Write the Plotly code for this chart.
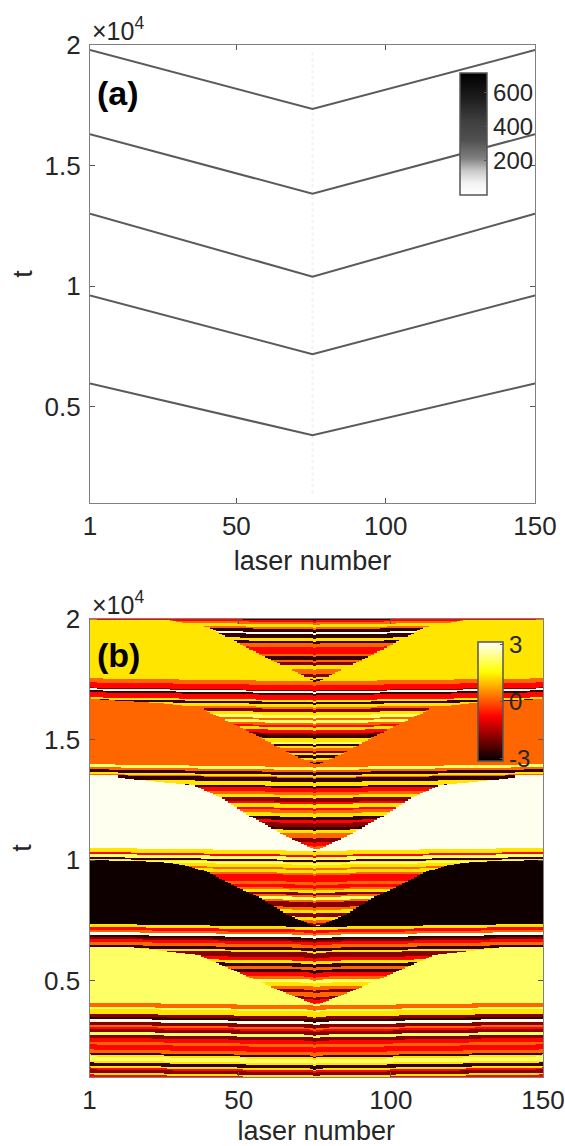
import numpy as np
import plotly.graph_objects as go

W, H = 565, 1146

# ---- panel (a) data
laser_ends = [1, 75.5, 150]
front_t = [
    [19790, 17350, 19790],
    [16300, 13830, 16300],
    [13000, 10390, 13000],
    [9610, 7170, 9610],
    [5960, 3810, 5960],
]
ghost_t = [19700, 1400]
intensity_range = [0, 715]
intensity_ticks = [200, 400, 600]
gray_scale = [[0, "#ffffff"], [0.1, "#f2f2f2"], [0.2, "#c8c8c8"], [0.3, "#808080"],
              [0.45, "#505050"], [0.6, "#404040"], [0.8, "#1c1c1c"], [1, "#000000"]]

# ---- panel (b) data: phase stripes, t of each stripe's top at the centre laser
D, R2, R, O, Y, L, C = -2.65, -1.9, -0.75, 0.16, 1.33, 2.2, 3.05
band_t = [20000, 19960, 19880, 19790, 19670, 19590, 19460, 19380, 19210, 19090, 19000, 18840,
          18550, 18470, 18300, 18220, 18090, 17930, 17720, 17590, 17510, 17430, 17260, 17050,
          17010, 16930, 16850, 16640, 16560, 16470, 16350, 16270, 16140, 16020, 15890, 15810,
          15690, 15600, 15520, 15400, 15270, 15190, 15060, 14900, 14820, 14730, 14650, 14520,
          14440, 14360, 14230, 14150, 14070, 13900, 13860, 13740, 13650, 13530, 13450, 13410,
          13240, 13070, 12990, 12820, 12700, 12580, 12410, 12330, 12160, 12080, 11950, 11790,
          11660, 11540, 11370, 11250, 11120, 10920, 10750, 10580, 10460, 10380, 10210, 10130,
          10000, 9920, 9880, 9800, 9670, 9590, 9460, 9380, 9090, 8970, 8840, 8760, 8640, 8550,
          8470, 8340, 8260, 8050, 7930, 7800, 7640, 7510, 7390, 7310, 7100, 6980, 6890, 6770,
          6680, 6600, 6480, 6350, 6230, 6150, 5940, 5810, 5690, 5560, 5440, 5320, 5150, 5030,
          4900, 4740, 4610, 4490, 4320, 4200, 4070, 3780, 3700, 3490, 3370, 3280, 3160, 3030,
          2950, 2870, 2740, 2620, 2490, 2330, 2210, 2000, 1870, 1790, 1710, 1540, 1460, 1330,
          1250, 1170, 1040, 960, 870]
band_phase = [D, R, O, Y, O, D, C, D, Y, D, O, R,
              O, D, O, R2, Y, O, R2, Y, D, O, R, R2,
              C, D, R, Y, D, Y, O, R2, Y, L, O, L,
              O, R, Y, R, R2, D, Y, L, D, Y, O, R2,
              Y, D, Y, O, D, O, L, O, D, Y, O, D,
              Y, D, R, O, Y, R2, R, Y, R, O, Y, D,
              R, R2, D, Y, O, R2, R, O, R2, Y, R, L,
              D, Y, L, Y, O, Y, O, R, O, R, O, Y, R2, O,
              L, O, R2, O, Y, R2, Y, O, R2, Y, R, O, C, D,
              R2, R, O, D, Y, R2, R, Y, D, O, D, R, O, L,
              Y, O, R2, O, R2, R, O, L, Y, R2, D, C, R2, O,
              R, R2, L, R2, R, O, R, O, D, Y, L, Y, D, Y,
              R, R2, Y, R, D]
band_bow = 125

# plateaus: phase, t range at centre, and the V-shaped wedge edge (t, half-width in lasers)
plateau_phase = [1.33, 0.16, 3.05, -3.0, 2.2]
plateau_top = [19900, 16640, 13410, 9880, 6270]
plateau_bottom = [17430, 13860, 10380, 7220, 3950]
wedge_t = [
    [17390, 17970, 18510, 19130, 19670, 19960, 20000],
    [13944, 14483, 15105, 15686, 16142, 16350, 16516, 16700],
    [10418, 10957, 11745, 12200, 12616, 13114, 13405],
    [7224, 7722, 8427, 8880, 9505, 9796, 9920, 10000],
    [3988, 4694, 5357, 5648, 6062, 6187, 6350],
]
wedge_halfwidth = [
    [0, 9.2, 18, 27, 35.5, 47.6, 75],
    [0, 9.5, 18.5, 27.5, 35.5, 38, 51, 74],
    [0, 9.5, 20.7, 26.6, 31.5, 40.7, 64.5],
    [0, 9.5, 18.5, 26, 35.8, 43.6, 51, 74],
    [0, 14.5, 26, 31.5, 39, 47.9, 60],
]
phase_range = [-3.14, 3.14]
phase_ticks = [-3, 0, 3]
phase_labels = ["-3", "0", "3"]

x_ticks = [1, 50, 100, 150]
y_ticks = [5000, 10000, 15000, 20000]
y_labels = ["0.5", "1", "1.5", "2"]
centre = 75.5
t_min, t_max = 1000, 20000
INK = "#262626"
AXIS = "#808080"
FONT = "Liberation Sans"


def px(x):
    return x / W


def py(y):
    return 1 - y / H


# build the phase map
lasers = np.arange(1, 151)
rows = np.linspace(t_max, t_min, 458)
dist = np.abs(lasers - centre)
T = np.repeat(rows[:, None], lasers.size, axis=1)
Tc = T - band_bow * dist[None, :] / 74.5
Tc_lookup = Tc.copy()
Tc_lookup[:, lasers == 75] += 40  # the centre laser runs slightly out of step
idx = np.searchsorted(-np.array(band_t), -Tc_lookup, side="right") - 1
z = np.array(band_phase)[np.clip(idx, 0, len(band_phase) - 1)]
for phase, top, bottom, wt, wh in zip(plateau_phase, plateau_top, plateau_bottom, wedge_t, wedge_halfwidth):
    hw = np.interp(T, wt, wh)
    mask = (Tc <= top) & (Tc >= bottom) & (dist[None, :] > hw)
    z[mask] = phase

fig = go.Figure()

fig.add_trace(go.Scatter(x=[centre, centre], y=ghost_t, mode="lines", xaxis="x", yaxis="y",
                         line=dict(color="#f1f1f1", width=2, dash="dot"), showlegend=False, hoverinfo="skip"))
for series in front_t:
    fig.add_trace(go.Scatter(x=laser_ends, y=series, mode="lines", xaxis="x", yaxis="y",
                             line=dict(color="#5a5a5a", width=2), showlegend=False))
fig.add_trace(go.Scatter(x=[None, None], y=[None, None], mode="markers", xaxis="x", yaxis="y", showlegend=False,
                         marker=dict(color=intensity_range, coloraxis="coloraxis")))
fig.add_trace(go.Heatmap(x=lasers, y=rows, z=z, xaxis="x2", yaxis="y2", coloraxis="coloraxis2"))

axis_common = dict(showgrid=False, zeroline=False, ticks="inside", ticklen=5, tickwidth=1,
                   tickcolor="#555555", linecolor=AXIS, linewidth=1.2, mirror="ticks", showline=True,
                   tickfont=dict(family=FONT, size=26, color=INK), layer="above traces")


def xax(dom, anchor, standoff):
    return dict(axis_common, domain=dom, anchor=anchor, range=[1, 150], tickvals=x_ticks,
                title=dict(text="laser number", standoff=standoff, font=dict(family=FONT, size=27, color=INK)))


def yax(dom, anchor):
    return dict(axis_common, domain=dom, anchor=anchor, range=[t_min, t_max], tickvals=y_ticks, ticktext=y_labels,
                ticklabelstandoff=3,
                title=dict(text="t", standoff=4, font=dict(family=FONT, size=27, color=INK)))


cb_common = dict(lenmode="fraction", thicknessmode="pixels", xanchor="left", yanchor="bottom", xpad=0, ypad=0,
                 outlinecolor="#555555", outlinewidth=1.5, ticks="inside", ticklen=3, tickcolor="#555555",
                 tickfont=dict(family=FONT, size=24, color=INK))

fig.update_layout(
    width=W, height=H, margin=dict(l=0, r=0, t=0, b=0, autoexpand=False), paper_bgcolor="white", plot_bgcolor="white",
    font=dict(family=FONT, color=INK),
    xaxis=xax([px(90), px(535)], "y", 10),
    yaxis=yax([py(503), py(45)], "x"),
    xaxis2=xax([px(89.5), px(543)], "y2", 12),
    yaxis2=yax([py(1077), py(619)], "x2"),
    coloraxis=dict(cmin=intensity_range[0], cmax=intensity_range[1], colorscale=gray_scale,
                   colorbar=dict(cb_common, x=px(460), y=py(195), len=122 / H, thickness=27, tickvals=intensity_ticks)),
    coloraxis2=dict(cmin=phase_range[0], cmax=phase_range[1],
                    colorscale=[[0, "#000000"], [0.375, "#ff0000"], [0.75, "#ffff00"], [1, "#ffffff"]],
                    colorbar=dict(cb_common, x=px(478), y=py(761), len=119 / H, thickness=25, tickvals=phase_ticks,
                                  ticktext=phase_labels)),
    annotations=[
        dict(text="(a)", x=px(95), y=py(93), xref="paper", yref="paper", xanchor="left", yanchor="middle",
             showarrow=False, font=dict(family=FONT, size=34, color="black", weight="bold")),
        dict(text="(b)", x=px(95), y=py(655), xref="paper", yref="paper", xanchor="left", yanchor="middle",
             showarrow=False, font=dict(family=FONT, size=34, color="black", weight="bold")),
        dict(text="×10<sup>4</sup>", x=px(90), y=py(47), xref="paper", yref="paper", xanchor="left", yanchor="bottom",
             showarrow=False, font=dict(family=FONT, size=25, color=INK)),
        dict(text="×10<sup>4</sup>", x=px(90), y=py(621), xref="paper", yref="paper", xanchor="left", yanchor="bottom",
             showarrow=False, font=dict(family=FONT, size=25, color=INK)),
    ],
)

fig.write_html("out.html", post_script="document.body.style.margin='0';", config=dict(displayModeBar=False))
